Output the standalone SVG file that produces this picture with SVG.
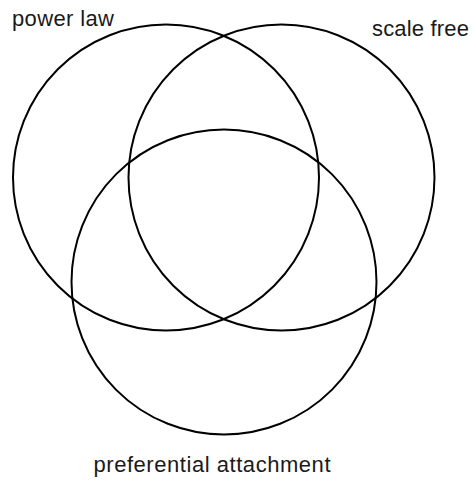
<svg xmlns="http://www.w3.org/2000/svg" width="473" height="490" viewBox="0 0 473 490">
<style>
.c{fill:none;stroke:#000;stroke-width:2}
.t{font-family:"Liberation Sans",Arial,sans-serif;font-size:22px;fill:#1a1a1a}
</style>
<rect width="473" height="490" fill="#fff"/>
<g id="power-law">
<circle class="c" cx="166" cy="177.5" r="153"/>
<text class="t" x="12" y="26" textLength="102" lengthAdjust="spacing">power law</text>
</g>
<g id="scale-free">
<circle class="c" cx="281.5" cy="177.5" r="153"/>
<text class="t" x="372" y="36" textLength="97" lengthAdjust="spacing">scale free</text>
</g>
<g id="preferential-attachment">
<circle class="c" cx="224" cy="282" r="152.5"/>
<text class="t" x="93.5" y="472" textLength="237" lengthAdjust="spacing">preferential attachment</text>
</g>
<g id="connectors"></g>
</svg>
